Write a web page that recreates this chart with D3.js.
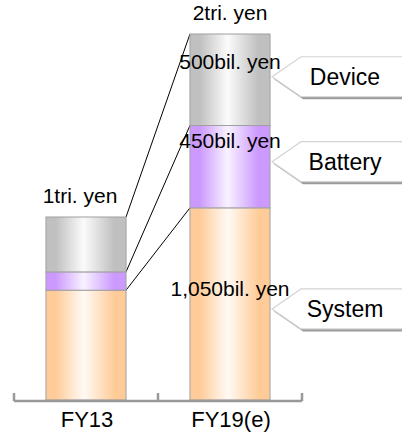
<!DOCTYPE html>
<html>
<head>
<meta charset="utf-8">
<script src="https://cdn.jsdelivr.net/npm/d3@7"></script>
<style>
  html, body { margin: 0; padding: 0; background: #fff; }
  svg { display: block; font-family: "Liberation Sans", Arial, sans-serif; }
</style>
</head>
<body>
<svg id="chart" width="402" height="435"></svg>
<script>
// Market size by segment (billion yen)
const categories = ["FY13", "FY19(e)"];
const segments = ["System", "Battery", "Device"];
const systemValues = [600, 1050];
const batteryValues = [100, 450];
const deviceValues = [300, 500];
const totalLabels = ["1tri. yen", "2tri. yen"];

// Visual styling per segment
const segmentColors = { System: "#ffcc99", Battery: "#cc99ff", Device: "#c0c0c0" };
const segmentCenters = { System: "#fffaf5", Battery: "#f8f2ff", Device: "#fbfbfb" };
// Vertical nudges (px) from each FY19 segment's middle for value labels and callouts
const labelNudge = { System: -8, Battery: -19, Device: -11 };
const calloutNudge = { System: 5, Battery: -5, Device: -3 };

const svg = d3.select("#chart");
const W = 402, H = 435;

const seriesByName = { System: systemValues, Battery: batteryValues, Device: deviceValues };
const table = categories.map((c, i) => {
  const row = { category: c };
  segments.forEach(s => row[s] = seriesByName[s][i]);
  return row;
});
const stacked = d3.stack().keys(segments)(table);

const x = d3.scaleBand().domain(categories).range([14, 302]).padding(0);
const barW = x.bandwidth() * 0.556;
const barX = c => x(c) + (x.bandwidth() - barW) / 2;
const y = d3.scaleLinear().domain([0, 2000]).range([400, 34]);

// Horizontal shading: saturated edges, pale centre
const defs = svg.append("defs");
segments.forEach(s => {
  const g = defs.append("linearGradient").attr("id", "grad-" + s)
    .attr("x1", "0%").attr("x2", "100%").attr("y1", "0%").attr("y2", "0%");
  [[0, segmentColors[s]], [0.12, segmentColors[s]], [0.47, segmentCenters[s]], [0.85, segmentColors[s]], [1, segmentColors[s]]]
    .forEach(([o, col]) => g.append("stop").attr("offset", o).attr("stop-color", col));
});

// Connector lines between cumulative boundaries of the two bars
const connectors = svg.append("g");
stacked.forEach(layer => {
  connectors.append("line")
    .attr("x1", barX(categories[0]) + barW).attr("y1", y(layer[0][1]))
    .attr("x2", barX(categories[1])).attr("y2", y(layer[1][1]))
    .attr("stroke", "#000").attr("stroke-width", 1);
});

// Stacked bars
svg.append("g").selectAll("g").data(stacked).join("g")
  .attr("fill", d => `url(#grad-${d.key})`)
  .selectAll("rect").data(d => d).join("rect")
  .attr("x", d => barX(d.data.category))
  .attr("y", d => y(d[1]))
  .attr("width", barW)
  .attr("height", d => y(d[0]) - y(d[1]))
  .attr("stroke", "#a0a0a0").attr("stroke-width", 1);

// Callouts naming each segment of the FY19 bar
const calloutG = svg.append("g");
stacked.forEach(layer => {
  const d = layer[1];
  const ty = (y(d[0]) + y(d[1])) / 2 + calloutNudge[layer.key];
  const tx = barX(categories[1]) + barW + 2;
  const pts = [[tx, ty], [tx + 29, ty - 20], [W + 10, ty - 20], [W + 10, ty + 20], [tx + 29, ty + 20]];
  const shadow = pts.map(p => [p[0] + 2, p[1] + 2.5]);
  calloutG.append("polygon").attr("points", shadow.map(p => p.join(",")).join(" "))
    .attr("fill", "#9a9a9a");
  calloutG.append("polygon").attr("points", pts.map(p => p.join(",")).join(" "))
    .attr("fill", "#fff").attr("stroke", "#d4d4d4").attr("stroke-width", 1.2);
  calloutG.append("text")
    .attr("x", 345).attr("y", ty + 8)
    .attr("text-anchor", "middle")
    .attr("font-size", 23).attr("fill", "#000")
    .text(layer.key);
});

// Value labels on the FY19 segments
const fmt = d3.format(",");
svg.append("g").selectAll("text").data(stacked).join("text")
  .attr("x", x(categories[1]) + x.bandwidth() / 2)
  .attr("y", d => (y(d[1][0]) + y(d[1][1])) / 2 + labelNudge[d.key])
  .attr("text-anchor", "middle")
  .attr("font-size", 21).attr("fill", "#000")
  .text(d => fmt(d[1].data[d.key]) + "bil. yen");

// Totals above each bar
svg.append("g").selectAll("text").data(table).join("text")
  .attr("x", (d, i) => x(d.category) + x.bandwidth() / 2 - (i === 0 ? 6 : 0))
  .attr("y", d => y(d3.sum(segments, s => d[s])) - 14)
  .attr("text-anchor", "middle")
  .attr("font-size", 21).attr("fill", "#000")
  .text((d, i) => totalLabels[i]);

// Baseline axis with boundary ticks
const axisY = 401;
const axisG = svg.append("g").attr("stroke", "#999").attr("stroke-width", 2.5).attr("fill", "none");
const [r0, r1] = x.range();
axisG.append("line").attr("x1", r0).attr("x2", r1).attr("y1", axisY).attr("y2", axisY);
const tickXs = [r0].concat(categories.map(c => x(c) + x.bandwidth()));
axisG.selectAll("line.tick").data(tickXs).join("line").attr("class", "tick")
  .attr("x1", d => d).attr("x2", d => d)
  .attr("y1", axisY).attr("y2", axisY - 8);

svg.append("g").selectAll("text").data(categories).join("text")
  .attr("x", c => x(c) + x.bandwidth() / 2 + 1)
  .attr("y", 427)
  .attr("text-anchor", "middle")
  .attr("font-size", 22).attr("fill", "#000")
  .text(c => c);
</script>
</body>
</html>
